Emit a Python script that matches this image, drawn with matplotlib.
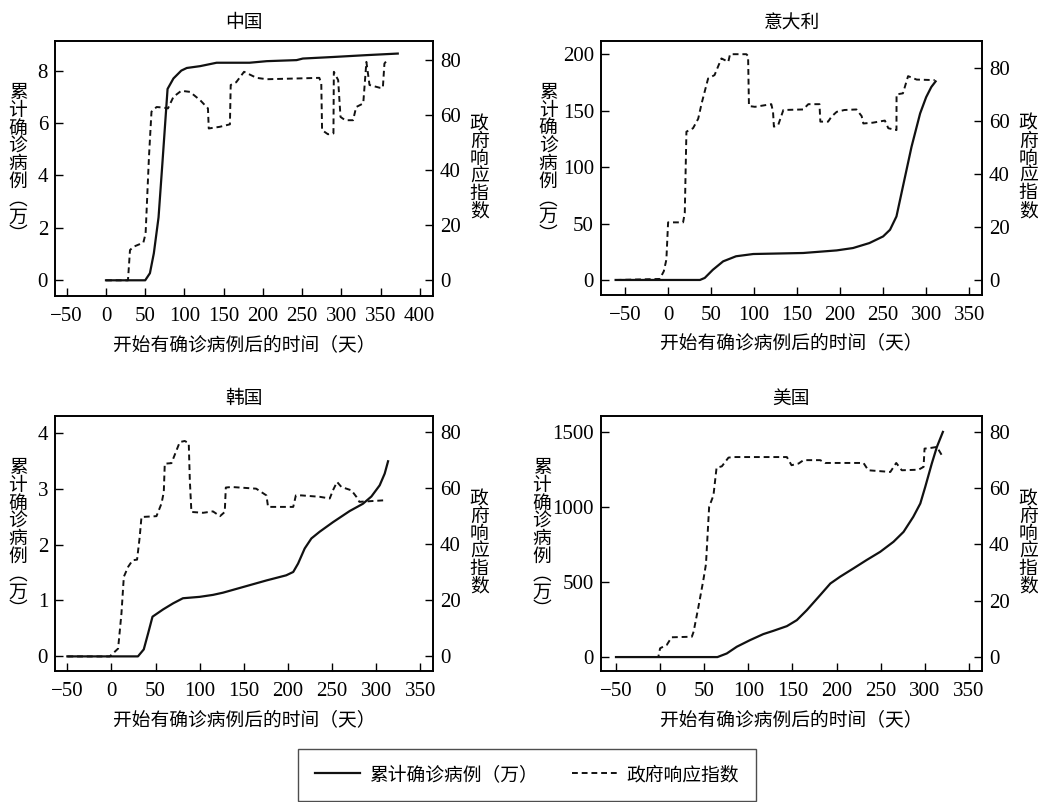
import matplotlib
matplotlib.use("Agg")
import matplotlib.pyplot as plt
from matplotlib.lines import Line2D

plt.rcParams['font.family'] = ['Liberation Serif', 'Noto Sans CJK SC']
plt.rcParams['font.size'] = 13.5
plt.rcParams['axes.unicode_minus'] = True

# China
cn_case_day = [0, 50, 56, 61, 67, 72, 78.5, 86, 96, 103, 120, 141, 183, 205, 243, 251, 290, 332, 372]
cn_case_val = [0, 0, 0.27, 1.03, 2.4, 4.5, 7.3, 7.7, 8.0, 8.1, 8.17, 8.3, 8.3, 8.36, 8.4, 8.46, 8.52, 8.59, 8.65]
cn_idx_day = [0, 28, 30.6, 35, 47.6, 50.5, 54.8, 58, 64.5, 73, 79, 86, 96, 107, 120, 130, 131, 145, 158,
              159, 166, 176, 192, 205, 247, 272, 274.5, 275.5, 283, 290, 290.5, 296, 299, 305, 315, 319,
              328, 332, 336, 349, 353, 355, 360]
cn_idx_val = [0, 0, 11, 12.2, 13.7, 17, 45, 61.3, 63, 62.8, 62.5, 66.7, 68.9, 68.5, 65.5, 62.5, 55.2, 55.8, 56.7,
              71, 72, 75.8, 73.6, 73.1, 73.4, 73.6, 71.5, 54.6, 53.1, 53.4, 75.8, 72.8, 59.4, 58.2, 58.2, 63,
              64.3, 79.4, 71, 70, 70, 78.8, 80.6]

# Italy
it_case_day = [-61, 37, 42.6, 52, 64, 79, 99, 118, 157, 196, 215, 234, 250, 258, 265.5, 273, 283, 293, 300, 306, 311]
it_case_val = [0, 0, 1.8, 9, 16.5, 21, 23, 23.3, 23.9, 26.2, 28.3, 32.7, 38.6, 44.5, 56.3, 82.8, 118, 147.6, 162, 171, 176]
it_idx_day = [-61, -9.7, -5, -2, 0, 17.4, 19.4, 21.3, 29, 35, 39, 46.5, 54, 62, 70, 72, 91, 93, 94, 101, 120,
              122, 123, 128, 134, 157, 163, 176, 177, 186, 190, 196, 205, 219, 225, 227, 238, 252, 256,
              265.5, 265.6, 273, 279, 289, 310]
it_idx_val = [0, 0.4, 3.3, 7.7, 21.8, 21.8, 25.3, 56.1, 57.4, 61, 66.8, 76.2, 77.5, 83.8, 82.5, 85.4, 85.4, 84.7,
              65.8, 65.5, 66.5, 63.6, 58, 58.6, 64.3, 64.5, 66.5, 66.5, 59.9, 59.9, 61.8, 63.6, 64.3, 64.5,
              62, 59.2, 59.5, 60.3, 57.4, 56.7, 70.2, 70.6, 77.1, 75.8, 75.6]

# Korea
kr_case_day = [-50, 30, 36.6, 41.5, 46.5, 58.5, 70, 81, 100, 115, 126.5, 149, 176, 198, 206, 211.5, 219,
               226.6, 236, 251, 270, 285, 294.6, 304, 309.7, 313.5]
kr_case_val = [0, 0, 0.125, 0.41, 0.71, 0.84, 0.95, 1.04, 1.065, 1.1, 1.14, 1.24, 1.36, 1.45, 1.51, 1.66, 1.93,
               2.11, 2.23, 2.4, 2.6, 2.73, 2.86, 3.06, 3.27, 3.49]
kr_idx_day = [-50, -2, 3.8, 7.5, 11.3, 14, 19, 24, 29, 32, 34, 51, 56.7, 59.3, 60.4, 68, 73, 77.4, 83, 87.6,
              88.8, 90.6, 103.9, 115, 123, 128.4, 129.6, 136, 164, 175.6, 177.5, 206, 209, 215.3, 236,
              247.4, 251, 255.7, 260.6, 272, 277.6, 281, 311.6]
kr_idx_val = [0, 0, 1.7, 2.8, 15.3, 28.4, 32, 34.3, 34.5, 42.6, 49.7, 50, 54.5, 58.6, 68.7, 68.9, 72.9, 76.4,
              76.8, 76, 62.8, 51.5, 51.2, 51.7, 50, 51.5, 60.2, 60.4, 59.8, 57.4, 53.3, 53.3, 57.4, 57.4,
              56.9, 56.3, 59.2, 62.2, 60.4, 59.2, 56.9, 55.1, 55.7]

# USA
us_case_day = [-50, 65, 75.6, 87, 102, 117, 128.5, 143.7, 155, 166.4, 181.5, 193, 204, 219, 234, 249.5,
               264.6, 276, 287, 295, 300.6, 308, 313.8, 320.6]
us_case_val = [0, 0, 24, 69, 113, 153, 175, 206, 246, 313, 413, 490, 535, 590, 646, 701, 768, 834, 934,
               1023, 1134, 1289, 1400, 1500]
us_idx_day = [-50, -2, 0, 7.6, 13, 36, 38, 43.5, 49, 52, 53.7, 55.6, 60.5, 64, 70, 77.5, 83, 143.7, 149,
              157, 162.6, 181.5, 187, 230.6, 236, 261, 267.7, 274, 293, 298.7, 299.8, 308, 313.8, 319.5]
us_idx_val = [0, 0, 3.1, 4.3, 7, 7.2, 9, 17.9, 27.3, 33, 42.7, 53.4, 57.5, 67.3, 67.8, 70.9, 71.1, 71.1,
              68.2, 68.8, 70, 70, 69, 69, 66.4, 65.8, 69, 66.4, 66.6, 67.6, 74.1, 74.4, 74.7, 71.7]

left_label = "\n".join(["累", "计", "确", "诊", "病", "例", "︵", "万", "︶"])
right_label = "\n".join(list("政府响应指数"))
x_label = "开始有确诊病例后的时间（天）"

panels = [
    dict(title="中国", pos=[0.0530, 0.6309, 0.3642, 0.318], cd=cn_case_day, cv=cn_case_val,
         idd=cn_idx_day, iv=cn_idx_val, xlim=(-65, 417), xt=range(-50, 401, 50),
         ylim=(-0.6, 9.13), yt=[0, 2, 4, 6, 8], rlim=(-5.7, 87), lx=-0.098, rx=1.122),
    dict(title="意大利", pos=[0.5790, 0.6322, 0.3671, 0.3167], cd=it_case_day, cv=it_case_val,
         idd=it_idx_day, iv=it_idx_val, xlim=(-78, 365), xt=range(-50, 351, 50),
         ylim=(-13.3, 211.8), yt=[0, 50, 100, 150, 200], rlim=(-5.66, 90.4), lx=-0.139, rx=1.121),
    dict(title="韩国", pos=[0.0530, 0.1633, 0.3642, 0.318], cd=kr_case_day, cv=kr_case_val,
         idd=kr_idx_day, iv=kr_idx_val, xlim=(-64, 364.5), xt=range(-50, 351, 50),
         ylim=(-0.262, 4.30), yt=[0, 1, 2, 3, 4], rlim=(-5.2, 85.7), lx=-0.098, rx=1.122),
    dict(title="美国", pos=[0.5790, 0.1633, 0.3671, 0.318], cd=us_case_day, cv=us_case_val,
         idd=us_idx_day, iv=us_idx_val, xlim=(-67, 365), xt=range(-50, 351, 50),
         ylim=(-93, 1606), yt=[0, 500, 1000, 1500], rlim=(-5, 85.7), lx=-0.155, rx=1.121),
]

fig = plt.figure(figsize=(10.38, 8.02), dpi=100)

for p in panels:
    ax = fig.add_axes(p["pos"])
    ax2 = ax.twinx()
    ax.plot(p["cd"], p["cv"], color="#111111", lw=1.6)
    ax2.plot(p["idd"], p["iv"], color="#111111", lw=1.4, linestyle=(0, (3, 2)))
    ax.set_xlim(p["xlim"])
    ax.set_xticks(list(p["xt"]))
    ax.set_ylim(p["ylim"])
    ax.set_yticks(p["yt"])
    ax2.set_ylim(p["rlim"])
    ax2.set_yticks([0, 20, 40, 60, 80])
    for a in (ax, ax2):
        for s in a.spines.values():
            s.set_linewidth(1.2)
        a.tick_params(direction="in", length=6, width=1.0, labelsize=15, pad=5)
    ax.tick_params(axis="x", pad=8)
    ax.set_title(p["title"], fontsize=13.5, pad=9)
    ax.set_xlabel(x_label, fontsize=13.5, labelpad=7)
    ax.text(p["lx"], 0.515, left_label, transform=ax.transAxes, ha="center", va="center",
            fontsize=13.5, linespacing=1.05)
    ax2.text(p["rx"], 0.5, right_label, transform=ax.transAxes, ha="center", va="center",
             fontsize=13.5, linespacing=1.02)

handles = [Line2D([], [], color="#111111", lw=1.6),
           Line2D([], [], color="#111111", lw=1.4, linestyle=(0, (3, 2)))]
leg = fig.legend(handles, ["累计确诊病例（万）", "政府响应指数"], loc="center",
                 bbox_to_anchor=(527 / 1038, 1 - 775 / 802), ncol=2, frameon=True,
                 fancybox=False, edgecolor="#222222", fontsize=13.5, handlelength=2.4,
                 handletextpad=0.5, columnspacing=1.8, borderpad=0.9)
leg.get_frame().set_linewidth(1.0)

fig.savefig("out.png", dpi=100)
